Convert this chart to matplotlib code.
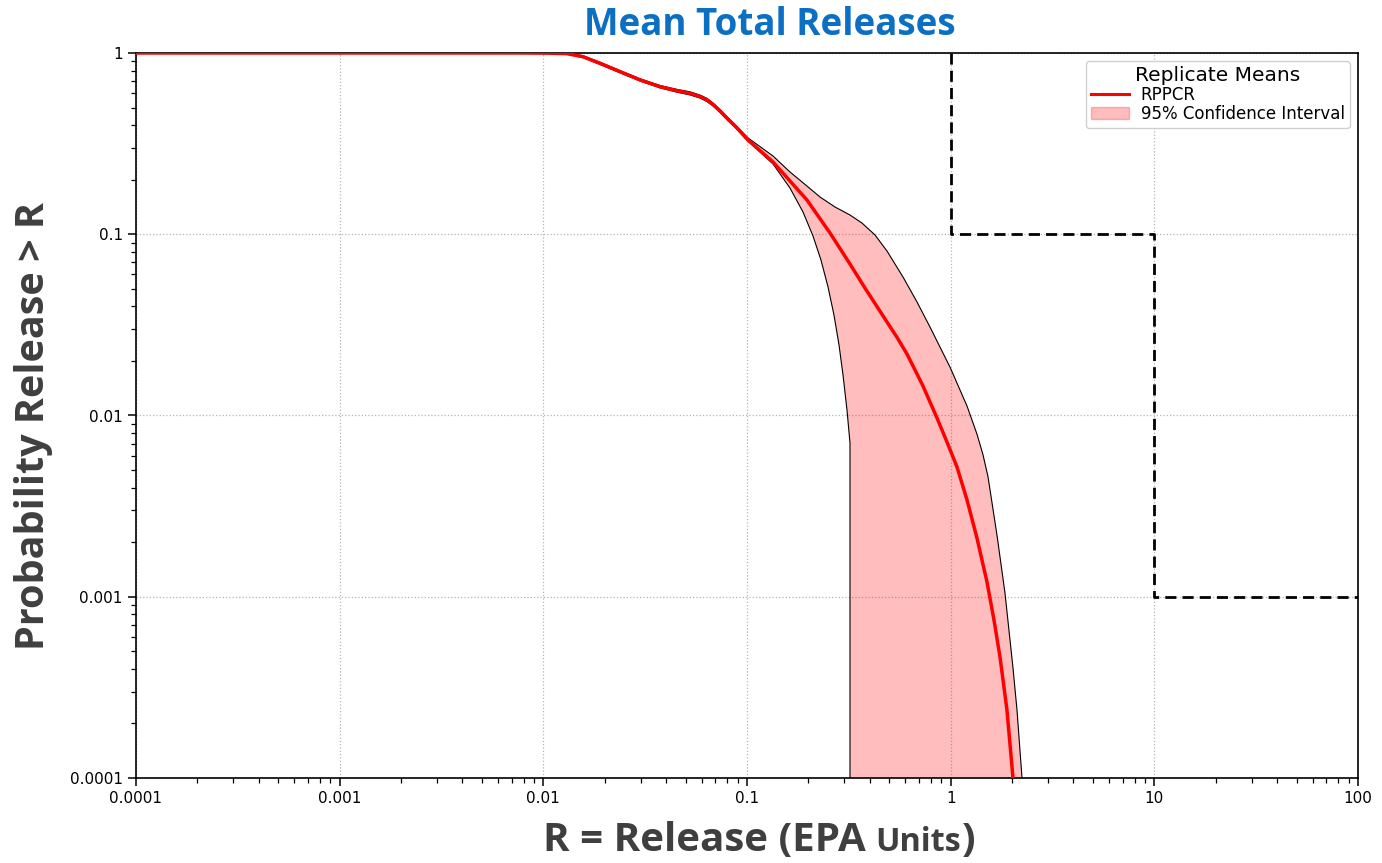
import matplotlib
matplotlib.use("Agg")
import matplotlib.pyplot as plt
from matplotlib.patches import Patch
from matplotlib.lines import Line2D

# ---------------- data ----------------
mean_x = [0.0001, 0.008, 0.0105, 0.01306, 0.01566, 0.01897, 0.02379, 0.0299, 0.0374, 0.0453,
          0.0525, 0.0588, 0.0636, 0.0681, 0.0737, 0.0796, 0.0893, 0.1011, 0.1342, 0.1970,
          0.2556, 0.3204, 0.3795, 0.4868, 0.5450, 0.6104, 0.7313, 0.8567, 0.9592, 1.074, 1.203,
          1.346, 1.508, 1.632, 1.747, 1.890, 2.023]
mean_y = [1.0, 1.0, 0.998, 0.992, 0.954, 0.877, 0.789, 0.710, 0.652, 0.619,
          0.599, 0.575, 0.551, 0.520, 0.479, 0.438, 0.386, 0.331, 0.2504, 0.1545,
          0.1016, 0.0685, 0.0505, 0.0328, 0.0270, 0.02184, 0.01455, 0.00969, 0.00714, 0.00520, 0.00342,
          0.00211, 0.001206, 0.000744, 0.000465, 0.000237, 0.0001]

upper_x = [0.0001, 0.008, 0.0105, 0.01306, 0.01566, 0.01897, 0.02379, 0.0299, 0.0374, 0.0453,
           0.0525, 0.0588, 0.0636, 0.0681, 0.0737, 0.0796, 0.0893, 0.1011, 0.1342, 0.1626,
           0.1970, 0.2283, 0.2704, 0.3204, 0.3669, 0.4251, 0.4868, 0.5834, 0.6834, 0.7914,
           0.9924, 1.203, 1.346, 1.440, 1.525, 1.688, 1.848, 2.023, 2.117, 2.240]
upper_y = [1.0, 1.0, 1.0, 1.0, 0.966, 0.890, 0.800, 0.720, 0.662, 0.630,
           0.611, 0.586, 0.562, 0.530, 0.488, 0.446, 0.393, 0.340, 0.2702, 0.2205,
           0.1845, 0.1605, 0.1414, 0.1277, 0.1153, 0.0991, 0.0808, 0.0581, 0.0423, 0.0308,
           0.0185, 0.01128, 0.00790, 0.00610, 0.00460, 0.00219, 0.001049, 0.000405, 0.000237, 0.0001]

lower_x = [0.0001, 0.008, 0.0105, 0.01306, 0.01566, 0.01897, 0.02379, 0.0299, 0.0374, 0.0453,
           0.0525, 0.0588, 0.0636, 0.0681, 0.0737, 0.0796, 0.0893, 0.1011, 0.1342, 0.1626,
           0.1883, 0.2109, 0.2308, 0.2499, 0.2674, 0.2830, 0.2961, 0.3097, 0.3204, 0.3204]
lower_y = [1.0, 1.0, 0.996, 0.985, 0.943, 0.865, 0.778, 0.700, 0.642, 0.608,
           0.587, 0.564, 0.540, 0.510, 0.470, 0.430, 0.379, 0.327, 0.2441, 0.1799,
           0.1327, 0.0978, 0.0721, 0.0512, 0.0358, 0.0245, 0.01673, 0.01072, 0.00705, 0.0001]

criterion_x = [1, 1, 10, 10, 100]
criterion_y = [1, 0.1, 0.1, 0.001, 0.001]

tick_vals_x = [0.0001, 0.001, 0.01, 0.1, 1, 10, 100]
tick_labels_x = ["0.0001", "0.001", "0.01", "0.1", "1", "10", "100"]
tick_vals_y = [0.0001, 0.001, 0.01, 0.1, 1]
tick_labels_y = ["0.0001", "0.001", "0.01", "0.1", "1"]

title = "Mean Total Releases"
xlabel_main = "R = Release (EPA"
xlabel_small = "Units"
xlabel_end = ")"
ylabel = "Probability Release > R"
legend_title = "Replicate Means"
mean_label = "RPPCR"
ci_label = "95% Confidence Interval"

# ---------------- figure ----------------
W, H = 1382, 863
fig = plt.figure(figsize=(W / 100, H / 100), dpi=100)
ax = fig.add_axes([136 / W, 1 - 778 / H, (1358 - 136) / W, (778 - 53) / H])

ax.set_xscale("log")
ax.set_yscale("log")
ax.set_xlim(1e-4, 100)
ax.set_ylim(1e-4, 1)

# confidence band polygon (upper then reversed lower)
poly_x = upper_x + lower_x[::-1]
poly_y = upper_y + lower_y[::-1]
ax.fill(poly_x, poly_y, color="red", alpha=0.26, lw=0, zorder=2)
ax.plot(upper_x, upper_y, color="black", lw=0.8, zorder=3)
ax.plot(lower_x, lower_y, color="black", lw=0.8, zorder=3)
ax.plot(mean_x, mean_y, color="red", lw=2.5, zorder=4, solid_joinstyle="round")

ax.plot(criterion_x, criterion_y, color="black", lw=2.0, ls=(0, (4, 2.2)),
        zorder=5, clip_on=False)

ax.grid(True, which="major", color="#b5b5b5", linestyle=":", linewidth=0.9)
ax.set_axisbelow(True)

ax.set_xticks(tick_vals_x)
ax.set_xticklabels(tick_labels_x)
ax.set_yticks(tick_vals_y)
ax.set_yticklabels(tick_labels_y)
ax.tick_params(axis="both", which="major", labelsize=11, length=6, width=1.1, colors="black")
ax.tick_params(axis="both", which="minor", length=3.5, width=0.9)
for s in ax.spines.values():
    s.set_linewidth(1.2)

# legend
handles = [Line2D([0], [0], color="red", lw=2.2),
           Patch(facecolor="red", edgecolor="red", alpha=0.26, lw=1)]
leg = ax.legend(handles, [mean_label, ci_label], title=legend_title, loc="upper right",
                fontsize=12, title_fontsize=14.5, labelspacing=0.05, borderpad=0.3,
                handlelength=2.3, handletextpad=0.7, framealpha=1, edgecolor="#d0d0d0",
                fancybox=True, borderaxespad=0.5)

# title
fig.text(770 / W, 1 - 25 / H, title, ha="center", va="center", fontsize=26.5,
         fontweight="bold", family="Open Sans", color="#0b6fc4")

# y label
fig.text(34 / W, 1 - 426 / H, ylabel, rotation=90, ha="center", va="center",
         fontsize=28.5, fontweight="bold", family="Open Sans", color="#3f3f3f")

# x label in pieces (smaller "Units")
fig.canvas.draw()
r = fig.canvas.get_renderer()
base_y = 1 - 851 / H
t1 = fig.text(0, base_y, xlabel_main, ha="left", va="baseline", fontsize=29,
              fontweight="bold", family="Open Sans", color="#3f3f3f")
t2 = fig.text(0, base_y, xlabel_small, ha="left", va="baseline", fontsize=23.3,
              fontweight="bold", family="Open Sans", color="#3f3f3f")
t3 = fig.text(0, base_y, xlabel_end, ha="left", va="baseline", fontsize=29,
              fontweight="bold", family="Open Sans", color="#3f3f3f")
w1 = t1.get_window_extent(r).width
w2 = t2.get_window_extent(r).width
w3 = t3.get_window_extent(r).width
space = 9
total = w1 + space + w2 + w3
x0 = 759 - total / 2
t1.set_x(x0 / W)
t2.set_x((x0 + w1 + space) / W)
t3.set_x((x0 + w1 + space + w2 + 1) / W)

fig.savefig("out.png", dpi=100)
